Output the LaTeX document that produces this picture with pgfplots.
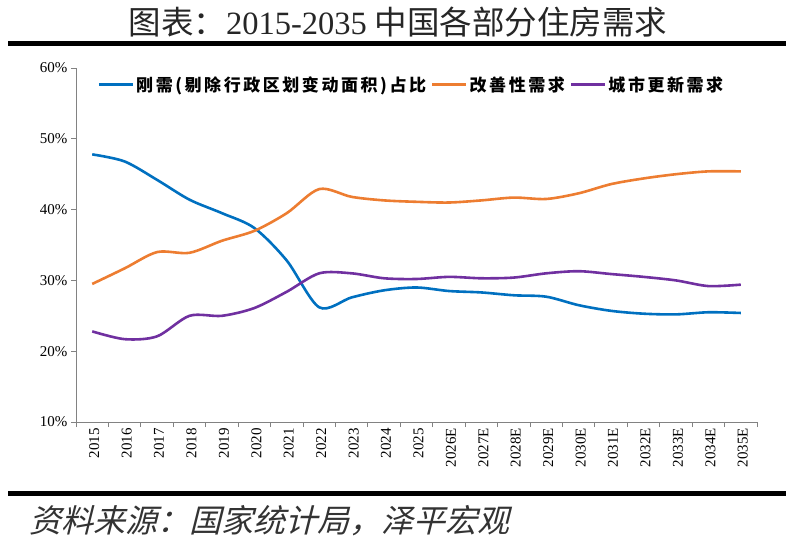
\documentclass[border=0pt]{standalone}
\usepackage{pgfplots}
\pgfplotsset{compat=1.18}
\usepackage{fontspec}
\setmainfont{Liberation Serif}
\newfontfamily\cjk{Noto Sans CJK SC}
\newfontfamily\cjkleg[LetterSpace=15]{Noto Sans CJK SC}
\newfontfamily\cjkit[FakeSlant=0.25]{Noto Sans CJK SC}
\definecolor{cblue}{RGB}{0,112,192}
\definecolor{corange}{RGB}{237,125,49}
\definecolor{cpurple}{RGB}{112,48,160}
\definecolor{axgray}{RGB}{130,130,130}
\begin{document}
\begin{tikzpicture}[x=1pt,y=1pt]
\path[use as bounding box] (0,0) rectangle (795,-546);
\node[font=\fontsize{32.5}{35}\selectfont, text=black!85] at (398,-22) {{\cjk 图表：}2015-2035 {\cjk 中国各部分住房需求}};
\fill[black] (8,-41) rectangle (786,-46);
\fill[black] (8,-491) rectangle (786,-496);
\node[anchor=west, font=\fontsize{32}{35}\selectfont\cjkit, text=black!80] at (26,-521) {资料来源：国家统计局，泽平宏观};
\begin{axis}[
  at={(76pt,-422pt)}, anchor=south west,
  scale only axis, width=681pt, height=354pt,
  xmin=-0.5, xmax=20.5, ymin=10, ymax=60,
  axis x line*=bottom, axis y line*=left,
  axis line style={axgray, line width=0.8pt},
  xtick={-0.5,0.5,...,20.5},
  x tick label as interval=true,
  xticklabels={2015,2016,2017,2018,2019,2020,2021,2022,2023,2024,2025,2026E,2027E,2028E,2029E,2030E,2031E,2032E,2033E,2034E,2035E},
  xticklabel style={rotate=90, anchor=east, font=\fontsize{15}{17}\selectfont, inner sep=1pt, yshift=-2pt},
  ytick={10,20,30,40,50,60},
  yticklabel={\pgfmathprintnumber{\tick}\%},
  yticklabel style={font=\fontsize{15}{17}\selectfont},
  /pgf/number format/assume math mode=true,
  tick align=outside, major tick length=5pt,
  tick style={axgray, line width=0.8pt},
  legend columns=3,
  legend style={at={(0.03,0.985)}, anchor=north west, draw=none, fill=none,
    font=\fontsize{17}{19}\selectfont\cjkleg\bfseries, inner sep=1pt,
    /tikz/every even column/.append style={column sep=3pt}},
  legend image code/.code={\draw[#1, line width=2.6pt] (0pt,0pt) -- (34pt,0pt);},
  every axis plot/.append style={line width=2.6pt, smooth, tension=0.5, mark=none},
]
\addplot[cblue] coordinates {(0,47.8)(1,46.8)(2,44.2)(3,41.4)(4,39.5)(5,37.4)(6,32.8)(7,26.2)(8,27.6)(9,28.6)(10,29.0)(11,28.5)(12,28.3)(13,27.9)(14,27.7)(15,26.5)(16,25.7)(17,25.3)(18,25.2)(19,25.5)(20,25.4)};
\addlegendentry{刚需(剔除行政区划变动面积)占比}
\addplot[corange] coordinates {(0,29.5)(1,31.7)(2,34.0)(3,33.9)(4,35.6)(5,37.0)(6,39.5)(7,42.9)(8,41.8)(9,41.3)(10,41.1)(11,41.0)(12,41.3)(13,41.7)(14,41.5)(15,42.3)(16,43.6)(17,44.4)(18,45.0)(19,45.4)(20,45.4)};
\addlegendentry{改善性需求}
\addplot[cpurple] coordinates {(0,22.8)(1,21.7)(2,22.1)(3,25.0)(4,25.0)(5,26.1)(6,28.4)(7,31.0)(8,31.0)(9,30.3)(10,30.2)(11,30.5)(12,30.3)(13,30.4)(14,31.0)(15,31.3)(16,30.9)(17,30.5)(18,30.0)(19,29.2)(20,29.4)};
\addlegendentry{城市更新需求}
\end{axis}
\end{tikzpicture}
\end{document}
